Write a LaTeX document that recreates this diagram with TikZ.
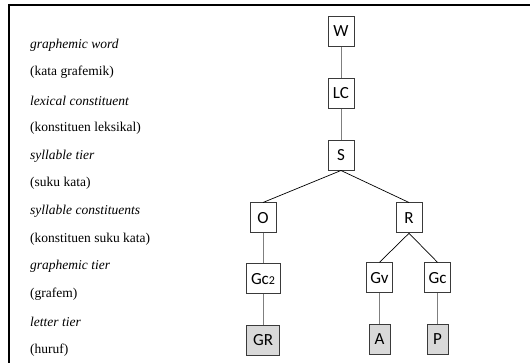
\documentclass[tikz,border=0pt]{standalone}
\usepackage{fontspec}
\setmainfont{Liberation Serif}
\newfontfamily\boxfont{Carlito}
\usetikzlibrary{positioning}
\definecolor{edge}{HTML}{3A3A3A}
\definecolor{stemc}{HTML}{7F7F7F}
\definecolor{leaf}{HTML}{D9D9D9}
\tikzset{
  unit/.style   = {draw=edge, line width=0.8pt, fill=white, minimum width=26pt,
                   minimum height=30pt, inner sep=3pt, font=\boxfont\fontsize{17}{17}\selectfont},
  letter/.style = {unit, fill=leaf},
  tier/.style   = {anchor=west, inner sep=0pt, font=\fontsize{13.5}{14}\selectfont\itshape},
  gloss/.style  = {anchor=west, inner sep=0pt, font=\fontsize{13.5}{14}\selectfont},
  stem/.style   = {draw=stemc, line width=1pt},
  branch/.style = {draw=black, line width=0.7pt},
}

\begin{document}
\begin{tikzpicture}[x=1pt, y=1pt, node distance=31pt]
\useasboundingbox (0,0) rectangle (530,-363);

% frame
\draw[line width=2.4pt] (8,-5) -- (530,-5);
\draw[line width=2pt] (9,-4) -- (9,-363);

% tier names
\node[tier]  (gw)   at (30,-45)  {graphemic word};
\node[gloss] (gwid) at (30,-72.7) {(kata grafemik)};
\node[tier]  (lx)   at (30,-100.4) {lexical constituent};
\node[gloss] (lxid) at (30,-128.1) {(konstituen leksikal)};
\node[tier]  (sy)   at (30,-155.8) {syllable tier};
\node[gloss] (syid) at (30,-183.5) {(suku kata)};
\node[tier]  (sc)   at (30,-211.2) {syllable constituents};
\node[gloss] (scid) at (30,-238.9) {(konstituen suku kata)};
\node[tier]  (gt)   at (30,-266.6) {graphemic tier};
\node[gloss] (gtid) at (30,-294.3) {(grafem)};
\node[tier]  (lt)   at (30,-322)   {letter tier};
\node[gloss] (ltid) at (30,-349.7) {(huruf)};

% tree
\node[unit] (w) at (341,-31.5) {W};
\node[unit, below=of w]  (lc) {LC};
\node[unit, below=of lc] (s)  {S};
\node[unit, below=32pt of s, xshift=-78pt] (o) {O};
\node[unit, below=32pt of s, xshift=68pt]  (r) {R};
\node[unit, below=30pt of o, minimum width=34pt] (gc2) {Gc{\fontsize{12}{12}\selectfont 2}};
\node[unit, below=29pt of r, xshift=-29.5pt] (gv) {Gv};
\node[unit, below=29pt of r, xshift=28.5pt]  (gc) {Gc};
\node[letter, below=of gc2, minimum width=33pt] (gr) {GR};
\node[letter, below=of gv, minimum width=21pt] (a) {A};
\node[letter, below=of gc, minimum width=21pt] (p) {P};

\draw[stem] (w) -- (lc);
\draw[stem] (lc) -- (s);
\draw[branch] (s.south) -- (o.north);
\draw[branch] (s.south) -- (r.north);
\draw[stem] (o) -- (gc2);
\draw[stem] (gc2) -- (gr);
\draw[branch] (r.south) -- (gv.north);
\draw[branch] (r.south) -- (gc.north);
\draw[stem] (gv) -- (a);
\draw[stem] (gc) -- (p);

\end{tikzpicture}
\end{document}
